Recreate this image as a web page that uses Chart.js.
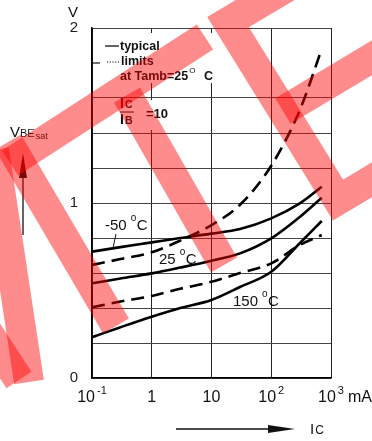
<!DOCTYPE html>
<html>
<head>
<meta charset="utf-8">
<script src="https://cdn.jsdelivr.net/npm/chart.js@4.4.0/dist/chart.umd.min.js"></script>
<style>
  html, body { margin: 0; padding: 0; background: #fff; }
</style>
</head>
<body>
<canvas id="myChart" width="372" height="441"></canvas>
<script>
// Dados (Ic em mA, VBEsat em V)
const currents   = [0.1, 0.3, 1, 3, 10, 30, 100, 300, 700];
const vMinus50   = [0.722, 0.748, 0.775, 0.80, 0.825, 0.851, 0.912, 0.998, 1.093];
const v25Typ     = [0.541, 0.569, 0.598, 0.631, 0.67, 0.712, 0.798, 0.92, 1.03];
const v25Max     = [0.646, 0.68, 0.718, 0.785, 0.874, 0.99, 1.213, 1.53, 1.88];
const v25Min     = [0.404, 0.437, 0.469, 0.51, 0.55, 0.60, 0.655, 0.76, 0.817];
const v150Typ    = [0.233, 0.29, 0.35, 0.40, 0.446, 0.52, 0.607, 0.77, 0.897];

// Rótulos dos eixos
const xTicks     = [0.1, 1, 10, 100, 1000];
const xTickBase  = ['10', '1', '10', '10', '10'];
const xTickExp   = ['-1', '', '', '2', '3'];
const yLabels    = [0, 1, 2];

const FONT = '"Liberation Sans", Arial, sans-serif';

function toPoints(values) {
    return currents.map((c, i) => ({ x: c, y: values[i] }));
}

function curve(values, dashed) {
    return {
        data: toPoints(values),
        borderColor: '#000',
        borderWidth: 2.6,
        borderDash: dashed ? [13, 7] : [],
        pointRadius: 0,
        fill: false,
        cubicInterpolationMode: 'monotone'
    };
}

function txt(ctx, s, x, y, size, bold, align) {
    ctx.font = (bold ? 'bold ' : '') + size + 'px ' + FONT;
    ctx.textAlign = align || 'left';
    ctx.fillText(s, x, y);
    return ctx.measureText(s).width;
}

function seg(ctx, x1, y1, x2, y2, w) {
    ctx.lineWidth = w;
    ctx.beginPath();
    ctx.moveTo(x1, y1);
    ctx.lineTo(x2, y2);
    ctx.stroke();
}

// texto com "o C" (graus)
function degLabel(ctx, num, x, y) {
    let w = txt(ctx, num, x, y, 15);
    txt(ctx, 'o', x + w + 4, y - 9, 10);
    txt(ctx, 'C', x + w + 10, y, 15);
}

const extras = {
    id: 'extras',
    afterDraw(chart) {
        const ctx = chart.ctx;
        const xs = chart.scales.x, ys = chart.scales.y;
        const a = chart.chartArea;
        ctx.save();
        ctx.textBaseline = 'alphabetic';
        ctx.strokeStyle = '#111';
        ctx.fillStyle = '#111';

        // tracinho no nível 1,8 V
        const y18 = ys.getPixelForValue(1.8);
        seg(ctx, a.left, y18, a.left + 8, y18, 1.2);

        // caixas brancas da legenda
        ctx.fillStyle = '#fff';
        ctx.fillRect(a.left + 8, a.top + 5, 114, 50);
        ctx.fillRect(a.left + 50, ys.getPixelForValue(1.6) + 2, 26, 30);

        ctx.fillStyle = '#111';
        seg(ctx, 105, 46, 119, 46, 1.3);
        txt(ctx, 'typical', 120, 50, 12.5, true);
        ctx.setLineDash([1.2, 1.5]);
        seg(ctx, 107, 62, 120, 62, 1.2);
        ctx.setLineDash([]);
        txt(ctx, 'limits', 121, 65, 12.5, true);
        let w = txt(ctx, 'at Tamb=25', 120, 80, 12.5, true);
        txt(ctx, 'O', 120 + w + 1, 73, 8, false);
        txt(ctx, 'C', 204, 80, 12.5, true);

        // Ic / IB = 10
        w = txt(ctx, 'I', 120, 108, 14, true);
        txt(ctx, 'C', 120 + w + 1, 108, 10.5, true);
        seg(ctx, 120, 112, 134, 112, 1);
        w = txt(ctx, 'I', 120, 124, 14, true);
        txt(ctx, 'B', 120 + w + 1, 124, 10.5, true);
        txt(ctx, '=10', 146, 118, 13, true);

        // rótulos das curvas
        degLabel(ctx, '-50', 105, 230);
        seg(ctx, 116, 234, 113, 248, 1);
        degLabel(ctx, '25', 159, 264);
        degLabel(ctx, '150', 233, 306);

        // eixo y: V
        txt(ctx, 'V', 73, 17, 15, false, 'center');

        // rótulos do eixo x com expoente
        xTicks.forEach((v, i) => {
            const px = xs.getPixelForValue(v);
            ctx.font = '16px ' + FONT;
            const bw = ctx.measureText(xTickBase[i]).width;
            ctx.font = '11px ' + FONT;
            const ew = xTickExp[i] ? ctx.measureText(xTickExp[i]).width + 2 : 0;
            const left = px - (bw + ew) / 2;
            txt(ctx, xTickBase[i], left, 402, 16);
            if (xTickExp[i]) txt(ctx, xTickExp[i], left + bw + 2, 394, 11);
            if (i === xTicks.length - 1) txt(ctx, 'mA', left + bw + ew + 4, 402, 16);
        });

        // VBEsat + seta
        w = txt(ctx, 'V', 10, 137, 15);
        let w2 = txt(ctx, 'BE', 10 + w, 137, 11);
        txt(ctx, 'sat', 11 + w + w2, 139, 9);
        seg(ctx, 23, 235, 23, 175, 1.3);
        ctx.beginPath();
        ctx.moveTo(19, 178); ctx.lineTo(23, 153); ctx.lineTo(27, 178);
        ctx.closePath(); ctx.fill();

        // IC + seta
        seg(ctx, 176, 429, 272, 429, 1.3);
        ctx.beginPath();
        ctx.moveTo(268, 425); ctx.lineTo(295, 429); ctx.lineTo(268, 433);
        ctx.closePath(); ctx.fill();
        w = txt(ctx, 'I', 310, 434, 15);
        txt(ctx, 'C', 310 + w + 1, 434, 12);

        // marca d'água
        ctx.strokeStyle = 'rgba(255, 0, 0, 0.45)';
        ctx.lineWidth = 30;
        ctx.lineCap = 'butt';
        ctx.lineJoin = 'miter';
        const strokes = [
            [[-45, 282], [19, 380]],
            [[29, 382], [-6, 150]],
            [[8, 142], [116, 326]],
            [[10, 163], [205, 37]],
            [[127, 95], [224, 265]],
            [[370, -62], [228, 22], [338, 200], [470, 121]],
            [[283, 111], [400, 41]]
        ];
        strokes.forEach(p => {
            ctx.beginPath();
            ctx.moveTo(p[0][0], p[0][1]);
            for (let k = 1; k < p.length; k++) ctx.lineTo(p[k][0], p[k][1]);
            ctx.stroke();
        });
        ctx.restore();
    }
};

const ctx = document.getElementById('myChart').getContext('2d');
const myChart = new Chart(ctx, {
    type: 'line',
    data: {
        datasets: [
            curve(vMinus50, false),
            curve(v25Typ, false),
            curve(v25Max, true),
            curve(v25Min, true),
            curve(v150Typ, false)
        ]
    },
    options: {
        responsive: false,
        animation: false,
        layout: { padding: { top: 28, right: 41, left: 0, bottom: 0 } },
        plugins: { legend: { display: false }, tooltip: { enabled: false } },
        scales: {
            x: {
                type: 'logarithmic',
                min: 0.1,
                max: 1000,
                afterBuildTicks: scale => { scale.ticks = xTicks.map(v => ({ value: v })); },
                afterFit: scale => { scale.height = 63; },
                ticks: { display: false },
                grid: { color: '#222', lineWidth: 1, drawTicks: false },
                border: { color: '#000', width: 1.5 }
            },
            y: {
                type: 'linear',
                min: 0,
                max: 2,
                afterFit: scale => { scale.width = 92; },
                ticks: {
                    stepSize: 0.2,
                    padding: 14,
                    color: '#222',
                    font: { size: 15, family: FONT },
                    callback: v => yLabels.includes(Math.round(v * 10) / 10) ? String(Math.round(v)) : ''
                },
                grid: {
                    color: c => Math.abs(c.tick.value - 1.8) < 1e-6 ? 'rgba(0,0,0,0)' : '#444',
                    lineWidth: 1,
                    drawTicks: false
                },
                border: { color: '#000', width: 1.5 }
            }
        }
    },
    plugins: [extras]
});
</script>
</body>
</html>
